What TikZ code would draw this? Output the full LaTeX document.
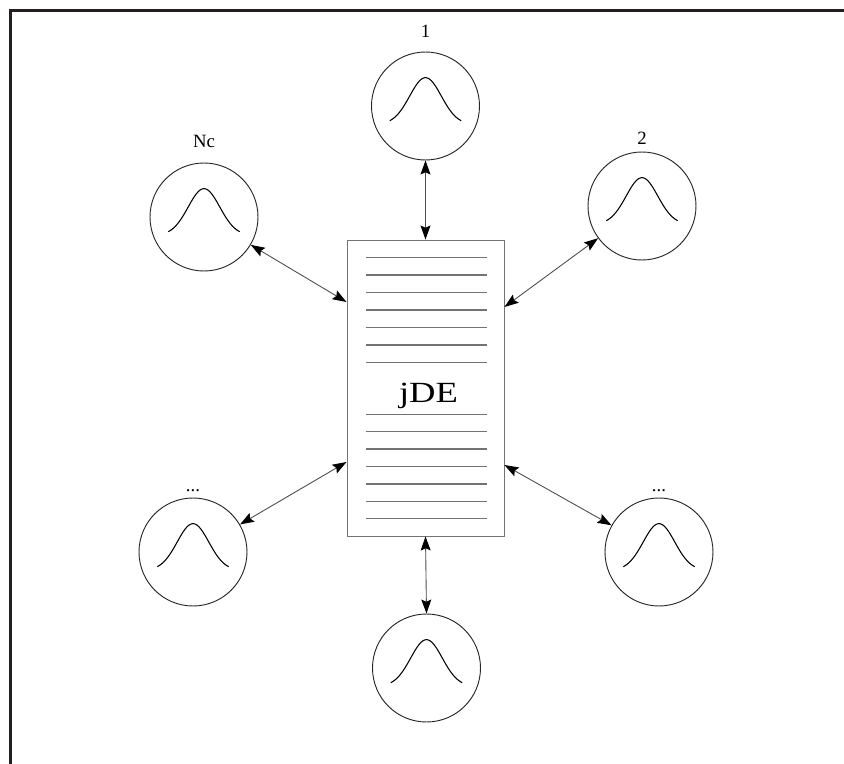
\documentclass[tikz,border=0pt]{standalone}
\usepackage{fontspec}
\setmainfont{Liberation Serif}
\usepackage{tikz}
\usetikzlibrary{arrows.meta, positioning, calc}
\definecolor{framegray}{HTML}{231F20}
\tikzset{
  member/.style={circle, draw=black!85, line width=0.8pt, minimum size=3.24cm,
                 inner sep=0pt},
  pool/.style={rectangle, draw=black!55, line width=0.8pt,
               minimum width=4.71cm, minimum height=8.88cm, inner sep=0pt},
  tag/.style={inner sep=0pt, font=\fontsize{16}{19}\selectfont},
  rule/.style={black!55, line width=1.2pt},
  bell/.style={black, line width=0.9pt},
  link/.style={<->, >={Stealth[length=12pt, width=8.5pt, inset=2pt, color=black]},
               black!70, line width=0.75pt},
}

\begin{document}
\begin{tikzpicture}
  \useasboundingbox (-12.765,-11.25) rectangle (12.555,11.64);
  % outer frame (only top and left edges show)
  \draw[framegray, line width=0.09cm] (-12.45,-11.4) -- (-12.45,11.325) -- (12.7,11.325);

  % central jDE block
  \node[pool] (jde) at (0,0) {};
  \node[anchor=base, inner sep=0pt] (jdetxt) at (0.09,-0.42)
    {\scalebox{1.25}[1]{\fontsize{25}{30}\selectfont jDE}};
  \foreach \k in {0,...,6} {
    \draw[rule] (-1.79,{0.76+0.525*\k}) -- (1.84,{0.76+0.525*\k});
    \draw[rule] (-1.79,{-0.79-0.522*\k}) -- (1.84,{-0.79-0.522*\k});
  }

  % sub-populations
  \node[member] (c1)  at (0,8.46)      {};
  \node[member] (c2)  at (6.495,5.46)  {};
  \node[member] (cnc) at (-6.645,5.13) {};
  \node[member] (cbl) at (-6.975,-4.92) {};
  \node[member] (cbr) at (7.005,-4.92) {};
  \node[member] (cb)  at (0.03,-8.4)   {};

  \foreach \c in {c1,c2,cnc,cbl,cbr,cb}
    \draw[bell, shift={(\c)}] plot[domain=-1.07:1.07, samples=50, smooth]
      (\x, {-0.55+1.40*exp(-((\x)*(\x))/0.45)});

  % labels
  \node[tag, above=0.42cm of c1]  (l1)  {1};
  \node[tag, above=0.21cm of c2]  (l2)  {2};
  \node[tag, above=0.45cm of cnc] (lnc) {Nc};
  \node[tag, above=0.18cm of cbl] (lbl) {...};
  \node[tag, above=0.18cm of cbr] (lbr) {...};

  % migration links
  \draw[link] (c1.south) -- (jde.north);
  \draw[link] (jde.south) -- (cb.north);
  \draw[link] (cnc) -- ([yshift=2.58cm]jde.west);
  \draw[link] (c2) -- ([yshift=2.43cm]jde.east);
  \draw[link] (cbl) -- ([yshift=-2.22cm]jde.west);
  \draw[link] (cbr) -- ([yshift=-2.31cm]jde.east);
\end{tikzpicture}
\end{document}
